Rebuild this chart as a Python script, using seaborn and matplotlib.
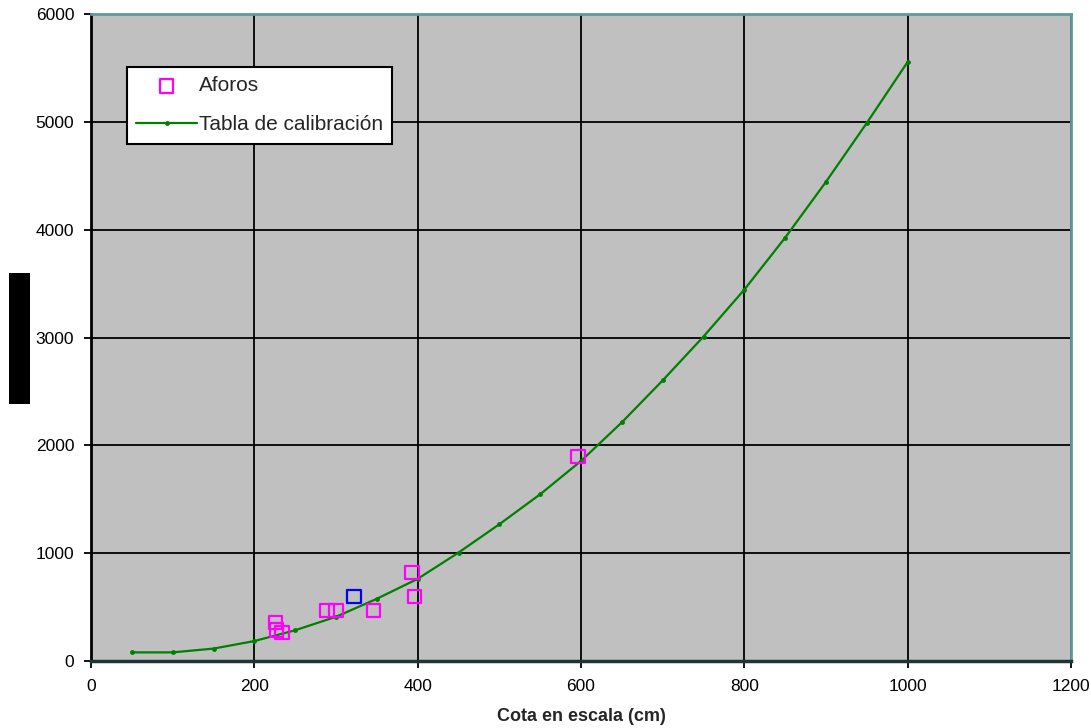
import matplotlib
matplotlib.use("Agg")
import matplotlib.pyplot as plt
from matplotlib.patches import Rectangle
import seaborn as sns
import pandas as pd

# Rating table (stage in cm -> discharge)
cota_tabla = [50, 100, 150, 200, 250, 300, 350, 400, 450, 500,
              550, 600, 650, 700, 750, 800, 850, 900, 950, 1000]
caudal_tabla = [80, 80, 115, 185, 285, 410, 577, 762, 1005, 1268,
                1546, 1855, 2213, 2602, 3009, 3444, 3926, 4444, 4990, 5556]

# Field gaugings
cota_aforos = [226, 227, 234, 289, 300, 346, 393, 396, 596]
caudal_aforos = [355, 287, 266, 469, 469, 469, 821, 599, 1895]

# Highlighted gauging
cota_destacado = [322]
caudal_destacado = [599]

x_ticks = [0, 200, 400, 600, 800, 1000, 1200]
y_ticks = [0, 1000, 2000, 3000, 4000, 5000, 6000]

sns.set_theme(style="white")
plt.rcParams["font.family"] = ["Liberation Sans", "DejaVu Sans"]

fig = plt.figure(figsize=(10.91, 7.28), dpi=100)
ax = fig.add_axes([91 / 1091, 1 - 661 / 728, 980 / 1091, 647 / 728])
ax.set_facecolor("#C0C0C0")

df_tabla = pd.DataFrame({"cota": cota_tabla, "caudal": caudal_tabla})
df_aforos = pd.DataFrame({"cota": cota_aforos, "caudal": caudal_aforos})
df_dest = pd.DataFrame({"cota": cota_destacado, "caudal": caudal_destacado})

ax.grid(True, color="black", linewidth=1.3)
ax.set_axisbelow(True)

sns.lineplot(data=df_tabla, x="cota", y="caudal", ax=ax, color="#008000",
             linewidth=1.6, marker="o", markersize=3.5, markeredgewidth=0,
             label="Tabla de calibración", zorder=3)
sns.scatterplot(data=df_aforos, x="cota", y="caudal", ax=ax, marker="s",
                s=95, facecolor="none", edgecolor="#FF00FF", linewidth=1.6,
                label="Aforos", zorder=4)
sns.scatterplot(data=df_dest, x="cota", y="caudal", ax=ax, marker="s",
                s=95, facecolor="none", edgecolor="#0000FF", linewidth=1.6,
                legend=False, zorder=4)

ax.set_xlim(0, 1200)
ax.set_ylim(0, 6000)
ax.set_xticks(x_ticks)
ax.set_yticks(y_ticks)
ax.tick_params(axis="both", which="both", direction="out", length=5,
               width=1.3, color="black", labelsize=12.5, labelcolor="black",
               bottom=True, left=True)
ax.tick_params(axis="y", pad=7)
ax.tick_params(axis="x", pad=8)
ax.set_xlabel("Cota en escala (cm)", fontsize=13, fontweight="bold",
              labelpad=10)
ax.set_ylabel("")

for side in ("top", "right"):
    ax.spines[side].set_color("#5F9A9A")
    ax.spines[side].set_linewidth(2)
ax.spines["left"].set_color("black")
ax.spines["left"].set_linewidth(2)
ax.spines["bottom"].set_color("#1F3535")
ax.spines["bottom"].set_linewidth(2.5)

handles, labels = ax.get_legend_handles_labels()
order = [labels.index("Aforos"), labels.index("Tabla de calibración")]
leg = ax.legend([handles[i] for i in order], [labels[i] for i in order],
                loc="upper left", bbox_to_anchor=(36 / 980, 1 - 53 / 647),
                borderaxespad=0, fontsize=15, frameon=True, fancybox=False,
                edgecolor="black", facecolor="white", framealpha=1,
                handlelength=2.9, handletextpad=0.1, borderpad=0.45,
                labelspacing=0.95)
leg.get_frame().set_linewidth(1.5)

# Axis title block on the left
fig.patches.append(Rectangle((9 / 1091, 1 - 404 / 728), 21 / 1091, 131 / 728,
                             transform=fig.transFigure, facecolor="black",
                             edgecolor="none"))

fig.savefig("out.png", dpi=100, facecolor="white")
